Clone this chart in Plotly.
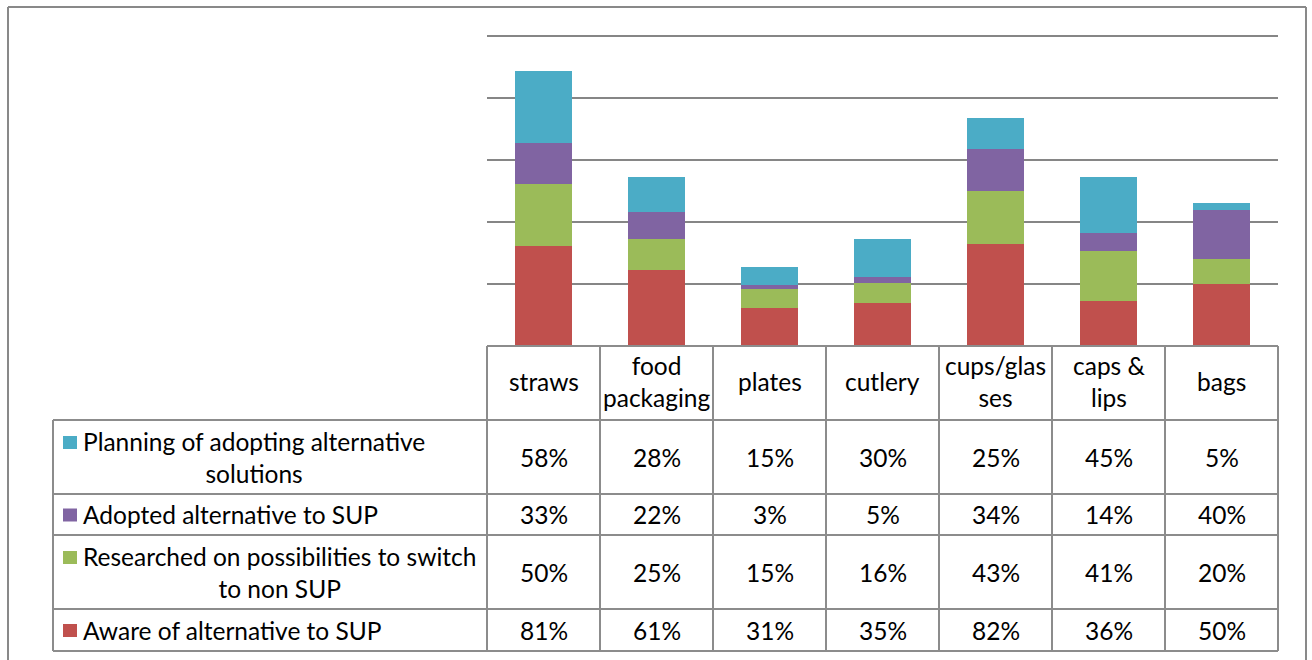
import plotly.graph_objects as go

# Categories and survey shares (%)
categories = ["straws", "food packaging", "plates", "cutlery", "cups/glasses", "caps & lips", "bags"]
header_labels = ["straws", "food<br>packaging", "plates", "cutlery", "cups/glas<br>ses", "caps &<br>lips", "bags"]

aware = [81, 61, 31, 35, 82, 36, 50]
researched = [50, 25, 15, 16, 43, 41, 20]
adopted = [33, 22, 3, 5, 34, 14, 40]
planning = [58, 28, 15, 30, 25, 45, 5]

series_names = [
    "Aware of alternative to SUP",
    "Researched on possibilities to switch<br>to non SUP",
    "Adopted alternative to SUP",
    "Planning of adopting alternative<br>solutions",
]
series_values = [aware, researched, adopted, planning]
series_colors = ["#C0504D", "#9BBB59", "#8064A2", "#4BACC6"]

y_ticks = [0, 50, 100, 150, 200, 250]

W, H = 1312, 660
FONT = "Lato"
FSIZE = 24.5
LINE = "#8C8C8C"


def px(x):
    return x / W


def py(y):
    return 1 - y / H


# Layout geometry in pixels
plot_left, plot_right = 487, 1278
plot_top, plot_bottom = 36, 346
table_left = 53
row_edges = [346, 420, 494, 535, 609, 651]  # header, planning, adopted, researched, aware
n = len(categories)
col_w = (plot_right - plot_left) / n

fig = go.Figure()
x = list(range(n))
for name, vals, color in zip(series_names, series_values, series_colors):
    fig.add_trace(go.Bar(
        x=x, y=vals, name=name.replace("<br>", " "),
        marker=dict(color=color, line=dict(width=0)),
        width=0.513, showlegend=False, hoverinfo="skip",
    ))

shapes = []
annotations = []

# Outer frame
frame = dict(type="line", xref="paper", yref="paper", line=dict(color="#898989", width=2))
shapes.append({**frame, "x0": px(8), "x1": px(8), "y0": py(7), "y1": py(H + 5)})
shapes.append({**frame, "x0": px(8), "x1": px(1306), "y0": py(7), "y1": py(7)})
shapes.append({**frame, "x0": px(1306), "x1": px(1306), "y0": py(7), "y1": py(H + 5)})

tline = dict(type="line", xref="paper", yref="paper", line=dict(color=LINE, width=2))

# Horizontal table lines
shapes.append({**tline, "x0": px(plot_left), "x1": px(plot_right), "y0": py(row_edges[0]), "y1": py(row_edges[0])})
for y in row_edges[1:]:
    shapes.append({**tline, "x0": px(table_left), "x1": px(plot_right), "y0": py(y), "y1": py(y)})

# Vertical table lines
shapes.append({**tline, "x0": px(table_left), "x1": px(table_left), "y0": py(row_edges[1]), "y1": py(row_edges[-1])})
for i in range(n + 1):
    xv = plot_left + i * col_w
    shapes.append({**tline, "x0": px(xv), "x1": px(xv), "y0": py(row_edges[0]), "y1": py(row_edges[-1])})

# Header (category) row
for i, lab in enumerate(header_labels):
    annotations.append(dict(
        xref="paper", yref="paper", x=px(plot_left + (i + 0.5) * col_w),
        y=py((row_edges[0] + row_edges[1]) / 2 - 1), text=lab, showarrow=False,
        xanchor="center", yanchor="middle", align="center",
        font=dict(family=FONT, size=FSIZE, color="#000000"),
    ))

# Data rows: planning, adopted, researched, aware (top to bottom)
row_order = [3, 2, 1, 0]
for r, si in enumerate(row_order):
    y0, y1 = row_edges[r + 1], row_edges[r + 2]
    multi = "<br>" in series_names[si]
    text_center = (y0 + y1) / 2
    sq_center = text_center - 15 if multi else text_center
    shapes.append(dict(
        type="rect", xref="paper", yref="paper",
        x0=px(63), x1=px(77), y0=py(sq_center - 6), y1=py(sq_center + 7),
        fillcolor=series_colors[si], line=dict(width=0),
    ))
    annotations.append(dict(
        xref="paper", yref="paper", x=px(81), y=py(text_center),
        text=series_names[si], showarrow=False,
        xanchor="left", yanchor="middle", align="center",
        font=dict(family=FONT, size=FSIZE, color="#000000"),
    ))
    for i, v in enumerate(series_values[si]):
        annotations.append(dict(
            xref="paper", yref="paper", x=px(plot_left + (i + 0.5) * col_w),
            y=py(text_center), text=f"{v}%", showarrow=False,
            xanchor="center", yanchor="middle",
            font=dict(family=FONT, size=FSIZE, color="#000000"),
        ))

fig.update_layout(
    width=W, height=H, autosize=False,
    margin=dict(l=0, r=0, t=0, b=0),
    paper_bgcolor="#FFFFFF", plot_bgcolor="#FFFFFF",
    barmode="stack", bargap=0,
    showlegend=False,
    xaxis=dict(domain=[px(plot_left), px(plot_right)], range=[-0.5, n - 0.5],
               showticklabels=False, showgrid=False, zeroline=False, showline=False,
               fixedrange=True),
    yaxis=dict(domain=[py(plot_bottom), py(plot_top - 2)], range=[0, 250 * (plot_bottom - plot_top + 2) / (plot_bottom - plot_top)],
               tickvals=y_ticks, showticklabels=False, showgrid=True,
               gridcolor="#868686", gridwidth=1.5, zeroline=False, showline=False,
               fixedrange=True),
    shapes=shapes, annotations=annotations,
)

fig.write_html("out.html")
